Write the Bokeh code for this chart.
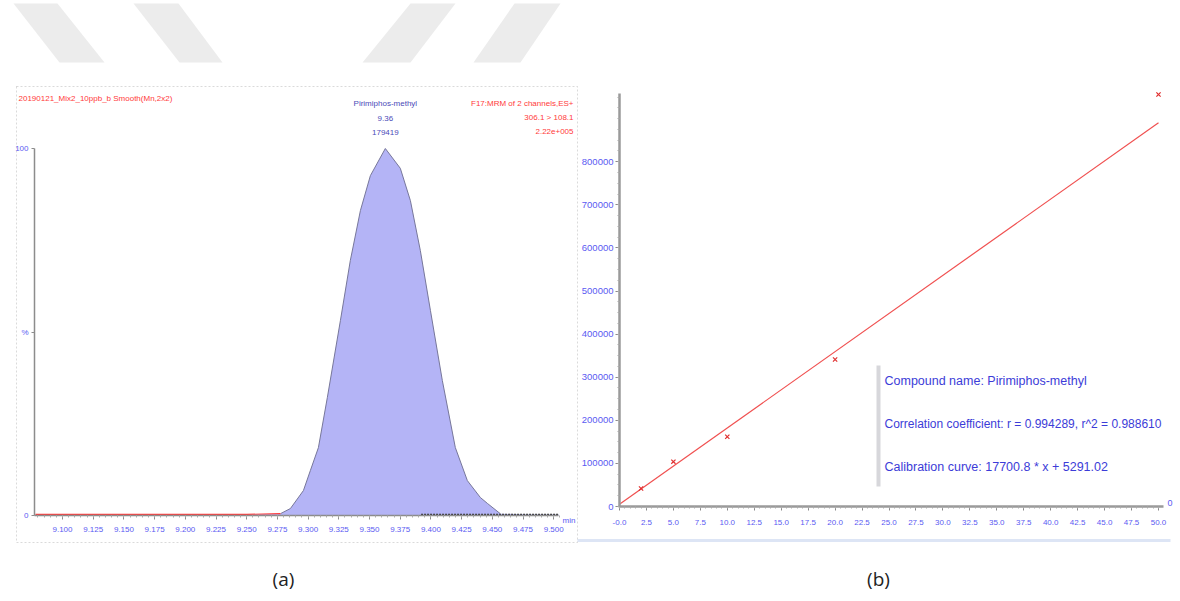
from bokeh.plotting import figure
from bokeh.models import Range1d, FixedTicker, Label, PolyAnnotation, LinearAxis
from bokeh.embed import file_html
from bokeh.resources import INLINE

# ---------------- data ----------------
# (a) chromatogram, Pirimiphos-methyl
rt_min = [9.078, 9.150, 9.200, 9.250, 9.2775, 9.2856, 9.2962, 9.3019, 9.3084,
          9.3157, 9.3263, 9.3344, 9.3426, 9.3507, 9.3629, 9.3751, 9.3833,
          9.3914, 9.3996, 9.4093, 9.4199, 9.4297, 9.4403, 9.4460, 9.4565,
          9.4800, 9.5040]
intensity_pct = [0.3, 0.3, 0.3, 0.3, 0.5, 1.9, 6.8, 12.3, 18.5, 32.2, 53.1,
                 69.5, 83.1, 92.6, 100.0, 94.6, 85.8, 72.2, 55.9, 36.8, 18.5,
                 9.5, 4.9, 3.3, 0.5, 0.3, 0.3]
rt_tick_values = [9.100, 9.125, 9.150, 9.175, 9.200, 9.225, 9.250, 9.275,
                  9.300, 9.325, 9.350, 9.375, 9.400, 9.425, 9.450, 9.475, 9.500]
rt_tick_labels = ["9.100", "9.125", "9.150", "9.175", "9.200", "9.225",
                  "9.250", "9.275", "9.300", "9.325", "9.350", "9.375",
                  "9.400", "9.425", "9.450", "9.475", "9.500"]
pct_tick_values = [0, 50, 100]
pct_tick_labels = ["0", "%", "100"]
peak_rt = 9.3629
peak_rt_label = "9.36"
peak_area_label = "179419"
compound = "Pirimiphos-methyl"
noise_start_rt = 9.392

# (b) calibration curve
conc = [2.0, 5.0, 10.0, 20.0, 50.0]
response = [41800, 104000, 162000, 341000, 956000]
slope = 17700.8
intercept = 5291.02
r_value = "0.994289"
r2_value = "0.988610"
conc_tick_values = [0.0, 2.5, 5.0, 7.5, 10.0, 12.5, 15.0, 17.5, 20.0, 22.5, 25.0,
                    27.5, 30.0, 32.5, 35.0, 37.5, 40.0, 42.5, 45.0, 47.5, 50.0]
conc_tick_labels = ["-0.0", "2.5", "5.0", "7.5", "10.0", "12.5", "15.0", "17.5",
                    "20.0", "22.5", "25.0", "27.5", "30.0", "32.5", "35.0",
                    "37.5", "40.0", "42.5", "45.0", "47.5", "50.0"]
resp_tick_values = [0, 100000, 200000, 300000, 400000, 500000, 600000, 700000, 800000]
resp_tick_labels = ["0", "100000", "200000", "300000", "400000", "500000",
                    "600000", "700000", "800000"]

# ---------------- styles / layout ----------------
W, H = 1180, 601
BLUE = "#5a5af2"
RED = "#ff3a3a"
FONT = "Liberation Sans"
FILL = "#b4b4f6"
WM = "#ececec"

# panel (a) calibration of the pixel grid (layout only)
A_L, A_R, A_T, A_B = 34, 558, 148, 515
RT_PER_PX = 0.025 / 30.7
def rt_at(px):
    return 9.100 + (px - 62) * RT_PER_PX
def pct_at(py):
    return (A_B - py) / (A_B - A_T) * 100.0

# panel (b)
B_L, B_R, B_T, B_B = 619, 1163, 93, 506
PX_PER_CONC = 10.78
PX_PER_RESP = 43.1 / 100000.0
def conc_at(px):
    return (px - B_L) / PX_PER_CONC
def resp_at(py):
    return (B_B - py) / PX_PER_RESP

p = figure(width=W, height=H, output_backend="svg", toolbar_location=None,
           x_range=Range1d(0, W), y_range=Range1d(H, 0),
           x_axis_type=None, y_axis_type=None, min_border=0)
p.outline_line_color = None
p.background_fill_color = "white"
p.border_fill_color = "white"
p.extra_x_ranges = {"rt": Range1d(rt_at(0), rt_at(W)),
                    "conc": Range1d(conc_at(0), conc_at(W))}
p.extra_y_ranges = {"pct": Range1d(pct_at(H), pct_at(0)),
                    "resp": Range1d(resp_at(H), resp_at(0))}

# ---- decorations (pixel space) ----
for pts in [[(13, 3), (57, 3), (104, 62), (59, 62)],
            [(133, 3), (178, 3), (222, 62), (179, 62)],
            [(410, 3), (455, 3), (410, 62), (362, 62)],
            [(514, 3), (560, 3), (520, 62), (473, 62)]]:
    p.add_layout(PolyAnnotation(xs=[q[0] for q in pts], ys=[q[1] for q in pts],
                                fill_color=WM, fill_alpha=1, line_color=None))

# dashed border of panel (a)
p.add_layout(PolyAnnotation(xs=[16, 577, 577, 16], ys=[86, 86, 542, 542],
                            fill_alpha=0, line_color="#858585", line_width=1,
                            line_dash="2 2"))
# light blue rule under panel (b)
p.add_layout(PolyAnnotation(xs=[577, 1170, 1170, 577], ys=[538.5, 538.5, 541.5, 541.5],
                            fill_color="#a9bde6", line_color=None))

# ---- panel (a) chromatogram ----
kw_a = dict(x_range_name="rt", y_range_name="pct")
p.varea(x=rt_min, y1=0, y2=intensity_pct, fill_color=FILL, **kw_a)
peak_x = [x for x in rt_min if 9.27 <= x <= 9.46]
peak_y = [y for x, y in zip(rt_min, intensity_pct) if 9.27 <= x <= 9.46]
p.line(peak_x, peak_y, line_color="#77779a", line_width=1, **kw_a)
pre_x = [x for x in rt_min if x <= 9.2775]
pre_y = [y for x, y in zip(rt_min, intensity_pct) if x <= 9.2775]
p.line(pre_x, pre_y, line_color=RED, line_width=1.2, **kw_a)
post_x = [noise_start_rt] + [x for x in rt_min if x >= 9.4565]
p.line(post_x, [0.3] * len(post_x), line_color="#333333", line_width=1.3,
       line_dash="2 1", **kw_a)

ax_rt = LinearAxis(x_range_name="rt", y_range_name="pct", fixed_location=0,
                   bounds=(rt_at(A_L), rt_at(A_R)))
ax_rt.ticker = FixedTicker(ticks=rt_tick_values,
                           minor_ticks=[round(9.080 + 0.005 * i, 3) for i in range(86)])
ax_rt.major_label_overrides = dict(zip(rt_tick_values, rt_tick_labels))
ax_pct = LinearAxis(x_range_name="rt", y_range_name="pct", fixed_location=rt_at(A_L),
                    bounds=(0, 100))
ax_pct.ticker = FixedTicker(ticks=pct_tick_values)
ax_pct.major_label_overrides = dict(zip(pct_tick_values, pct_tick_labels))
for axis in (ax_rt, ax_pct):
    axis.axis_line_color = "#8c8c8c"
    axis.axis_line_width = 1.5
    axis.major_tick_line_color = "#8c8c8c"
    axis.minor_tick_line_color = "#aaaaaa"
    axis.major_label_text_color = BLUE
    axis.major_label_text_font = FONT
    axis.major_label_text_font_size = "8px"
    axis.major_tick_in = 0
    axis.minor_tick_in = 0
ax_rt.major_tick_out = 4
ax_rt.minor_tick_out = 2
ax_rt.major_label_standoff = 7
ax_pct.major_tick_out = 3
ax_pct.minor_tick_out = 0
ax_pct.major_label_standoff = 3
p.add_layout(ax_rt, "below")
p.add_layout(ax_pct, "left")

def label(px, py, text, color, align="left", size="8px", font=FONT, **kw):
    p.add_layout(Label(x=px, y=py, text=text, text_color=color, text_font=font,
                       text_font_size=size, text_align=align,
                       text_baseline="middle", **kw))

label(18, 98, "20190121_Mix2_10ppb_b Smooth(Mn,2x2)", RED)
label(573, 103, "F17:MRM of 2 channels,ES+", RED, "right")
label(573, 117, "306.1 > 108.1", RED, "right")
label(573, 131, "2.22e+005", RED, "right")
label(peak_rt, 103, compound, "#4a4ab8", "center", x_range_name="rt")
label(peak_rt, 118, peak_rt_label, "#4a4ab8", "center", x_range_name="rt")
label(peak_rt, 132, peak_area_label, "#4a4ab8", "center", x_range_name="rt")
label(562, 520, "min", BLUE)
label(283, 578, "(a)", "#222222", "center", "19px", "Open Sans")

# ---- panel (b) calibration ----
kw_b = dict(x_range_name="conc", y_range_name="resp")
p.line([0, 50], [intercept, slope * 50 + intercept], line_color="#f05050",
       line_width=1.2, **kw_b)
p.scatter(conc, response, marker="x", size=6, line_color="#e03030",
          line_width=1.2, **kw_b)

ax_conc = LinearAxis(x_range_name="conc", y_range_name="resp", fixed_location=0,
                     bounds=(conc_at(B_L - 1), conc_at(B_R)))
ax_conc.ticker = FixedTicker(ticks=conc_tick_values,
                             minor_ticks=[0.5 * i for i in range(101)])
ax_conc.major_label_overrides = dict(zip(conc_tick_values, conc_tick_labels))
ax_resp = LinearAxis(x_range_name="conc", y_range_name="resp", fixed_location=0,
                     bounds=(0, resp_at(B_T)))
ax_resp.ticker = FixedTicker(ticks=resp_tick_values,
                             minor_ticks=[25000 * i for i in range(39)])
ax_resp.major_label_overrides = dict(zip(resp_tick_values, resp_tick_labels))
for axis in (ax_conc, ax_resp):
    axis.axis_line_color = "#9a9a9a"
    axis.axis_line_width = 2.5
    axis.major_tick_line_color = "#8a8a8a"
    axis.minor_tick_line_color = "#aaaaaa"
    axis.major_label_text_color = BLUE
    axis.major_label_text_font = FONT
    axis.major_tick_in = 0
    axis.minor_tick_in = 0
    axis.major_tick_out = 4
    axis.minor_tick_out = 2
ax_conc.major_label_text_font_size = "8px"
ax_resp.major_label_text_font_size = "9.5px"
ax_conc.major_label_standoff = 9
ax_resp.major_label_standoff = 2
p.add_layout(ax_conc, "below")
p.add_layout(ax_resp, "left")

p.add_layout(PolyAnnotation(xs=[876, 880, 880, 876], ys=[365, 365, 486, 486],
                            fill_color="#9a9aa6", line_color=None))
label(884, 380, "Compound name: " + compound, "#3c3cd8", size="12.5px")
label(884, 423, "Correlation coefficient: r = " + r_value + ", r^2 = " + r2_value,
      "#3c3cd8", size="12px")
label(884, 466, "Calibration curve: " + f"{slope:.1f}" + " * x + " + f"{intercept:.2f}",
      "#3c3cd8", size="12.5px")
label(1167, 502, "0", BLUE, size="9px")
label(878, 578, "(b)", "#222222", "center", "19px", "Open Sans")

open("out.html", "w").write(file_html(p, INLINE))
